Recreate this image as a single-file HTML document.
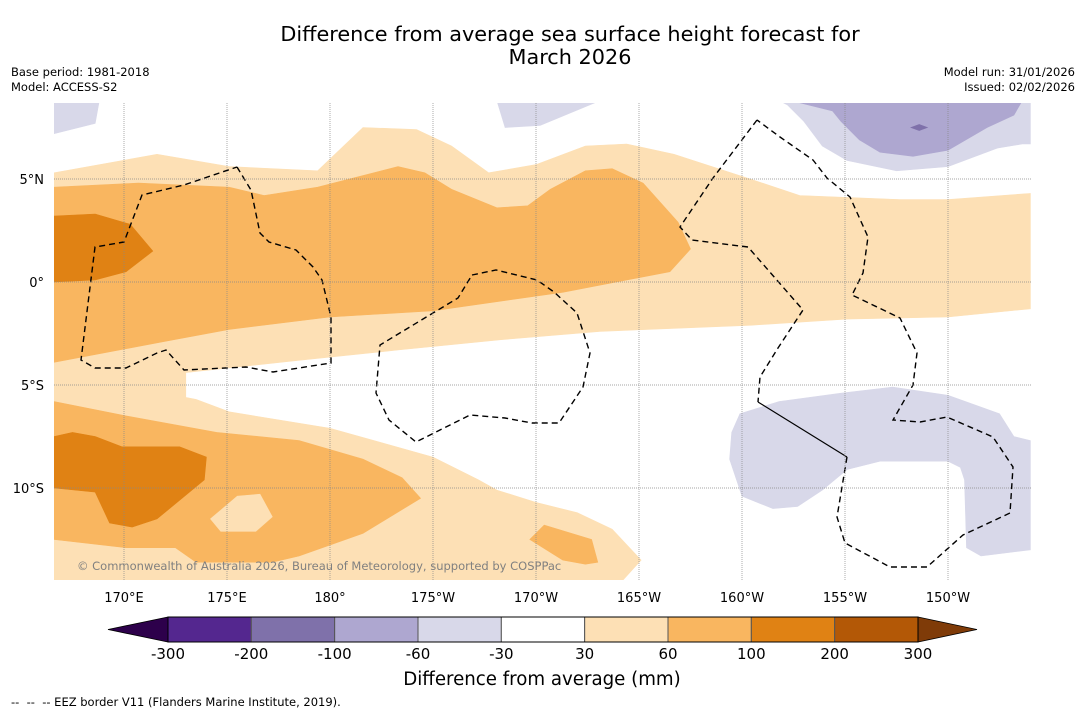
<!DOCTYPE html>
<html><head><meta charset="utf-8">
<style>
body{margin:0;background:#fff;width:1085px;height:713px;overflow:hidden;font-family:"DejaVu Sans","Liberation Sans",sans-serif;}
svg text{font-family:"DejaVu Sans","Liberation Sans",sans-serif;}
</style></head>
<body>
<svg id="chart" width="1085" height="713" xmlns="http://www.w3.org/2000/svg">
<rect width="1085" height="713" fill="#fff"/>
<text x="570" y="41" font-size="20.8" text-anchor="middle" fill="#000">Difference from average sea surface height forecast for</text>
<text x="570" y="64" font-size="20.8" text-anchor="middle" fill="#000">March 2026</text>
<text x="11" y="76" font-size="11.5">Base period: 1981-2018</text>
<text x="11" y="91" font-size="11.5">Model: ACCESS-S2</text>
<text x="1075" y="76" font-size="11.5" text-anchor="end">Model run: 31/01/2026</text>
<text x="1075" y="91" font-size="11.5" text-anchor="end">Issued: 02/02/2026</text>
<defs><clipPath id="mapclip"><rect x="54" y="103" width="977" height="477"/></clipPath></defs>
<g id="map" clip-path="url(#mapclip)"></g>
<g id="axes"></g>
<g id="cbar"></g>
<text x="542" y="685" font-size="18.2" text-anchor="middle">Difference from average (mm)</text>
<text x="11" y="706" font-size="11.5" xml:space="preserve">--  --  -- EEZ border V11 (Flanders Marine Institute, 2019).</text>
</svg>
<script>
const lonTicks=[170,175,180,185,190,195,200,205,210];
const lonTickLabels=["170°E","175°E","180°","175°W","170°W","165°W","160°W","155°W","150°W"];
const latTicks=[5,0,-5,-10];
const latTickLabels=["5°N","0°","5°S","10°S"];
const cbarLevels=["-300","-200","-100","-60","-30","30","60","100","200","300"];
const cbarColors=["#54278f","#7f71aa","#aea7d0","#d8d8e9","#ffffff","#fde0b5","#f9b660","#e08214","#b35806"];
const lightBand=[[166.6,5.3],[171.6,6.2],[175.1,5.6],[179.4,5.4],[181.6,7.5],[184.2,7.4],[185.9,6.6],[187.7,5.3],[190.0,5.7],[192.4,6.6],[194.4,6.7],[196.7,6.2],[200.4,5.0],[202.8,4.2],[207.7,4.0],[210.0,4.0],[214.0,4.3],[214.0,-1.3],[210.0,-1.7],[205.1,-1.8],[200.4,-2.1],[193.1,-2.4],[188.3,-2.8],[183.3,-3.3],[178.5,-3.8],[173.0,-4.4],[173.0,-5.6],[173.5,-5.7],[175.1,-6.3],[180.0,-7.1],[185.0,-8.5],[187.2,-9.6],[188.1,-10.1],[190.0,-10.7],[192.0,-11.2],[193.7,-12.0],[195.1,-13.5],[194.1,-14.6],[166.6,-14.6]];
const midNorth=[[166.6,4.6],[170.7,4.8],[175.1,4.6],[176.8,4.2],[179.4,4.6],[183.3,5.6],[184.6,5.3],[185.9,4.5],[188.1,3.6],[189.6,3.7],[190.7,4.5],[192.4,5.4],[193.7,5.5],[195.2,4.8],[196.9,2.9],[197.5,1.6],[196.5,0.5],[191.3,-0.5],[185.0,-1.4],[180.0,-1.7],[175.1,-2.3],[171.9,-2.9],[166.6,-3.9]];
const darkNorth=[[166.6,3.2],[168.6,3.3],[170.3,2.8],[171.4,1.5],[170.1,0.5],[168.6,0.1],[166.6,0.0]];
const midSouth=[[166.6,-5.8],[170.1,-6.5],[174.5,-7.3],[178.5,-7.7],[181.6,-8.6],[183.5,-9.5],[184.4,-10.5],[181.6,-12.2],[178.5,-13.3],[177.2,-13.6],[173.5,-13.6],[172.5,-12.9],[170.1,-12.9],[166.6,-12.5]];
const lightIsland=[[174.2,-11.5],[175.5,-10.4],[176.6,-10.3],[177.2,-11.4],[176.4,-12.1],[174.7,-12.1]];
const darkSouth=[[166.6,-7.5],[167.5,-7.3],[168.6,-7.5],[169.9,-8.0],[172.7,-8.0],[174.0,-8.5],[173.9,-9.6],[171.6,-11.5],[170.4,-11.9],[169.3,-11.7],[168.6,-10.2],[166.6,-10.0]];
const midBlobSE=[[189.7,-12.5],[190.4,-11.8],[192.7,-12.5],[193.0,-13.6],[192.4,-13.7],[191.3,-13.5]];
const lavTopLeft=[[166.6,8.8],[168.8,8.8],[168.6,7.7],[166.6,7.2]];
const lavTopMid=[[188.1,8.8],[193.1,8.8],[190.2,7.6],[188.5,7.5]];
const lavTopRight=[[201.8,8.8],[214.0,8.8],[214.0,6.7],[213.6,6.7],[212.4,6.5],[210.0,5.6],[207.5,5.4],[205.1,5.9],[203.9,6.6],[203.0,7.8],[202.2,8.6]];
const purpleTop=[[202.4,8.8],[213.6,8.8],[213.2,8.1],[211.9,7.5],[210.0,6.4],[208.3,6.1],[206.7,6.3],[205.7,6.9],[204.8,7.8],[204.4,8.3],[203.2,8.6]];
const purpleCore=[[208.2,7.5],[208.6,7.65],[209.0,7.5],[208.6,7.35]];
const lavSouthEast=[[199.9,-6.4],[199.5,-7.3],[199.4,-8.6],[200.0,-10.4],[201.5,-11.0],[202.7,-10.9],[203.9,-10.1],[205.1,-9.1],[206.7,-8.7],[210.0,-8.7],[210.6,-9.0],[210.8,-9.6],[210.9,-12.9],[211.6,-13.3],[214.0,-13.0],[214.0,-7.7],[213.2,-7.5],[212.5,-6.4],[210.0,-5.5],[207.3,-5.1],[204.8,-5.4],[201.8,-5.8]];

const PX=20.6;
function xScale(lon){return 124+(lon-170)*PX;}
function yScale(lat){return 282-lat*PX;}
const NS="http://www.w3.org/2000/svg";
function mk(tag,attrs,parent){const e=document.createElementNS(NS,tag);for(const k in attrs)e.setAttribute(k,attrs[k]);parent.appendChild(e);return e;}
const map=document.getElementById('map');
function poly(data,fill,name){
  const e=mk('polygon',{points:data.map(p=>xScale(p[0]).toFixed(1)+','+yScale(p[1]).toFixed(1)).join(' '),fill:fill,stroke:fill,'stroke-width':'0.6'},map);
  
  
}
poly(lightBand,cbarColors[5],'contour-30-60');
poly(midNorth,cbarColors[6],'contour-60-100-north');
poly(darkNorth,cbarColors[7],'contour-100-200-north');
poly(midSouth,cbarColors[6],'contour-60-100-south');
poly(lightIsland,cbarColors[5],'contour-30-60-island');
poly(darkSouth,cbarColors[7],'contour-100-200-south');
poly(midBlobSE,cbarColors[6],'contour-60-100-southeast');
poly(lavTopLeft,cbarColors[3],'contour-neg30-neg60-topleft');
poly(lavTopMid,cbarColors[3],'contour-neg30-neg60-topmid');
poly(lavTopRight,cbarColors[3],'contour-neg30-neg60-topright');
poly(purpleTop,cbarColors[2],'contour-neg60-neg100');
poly(purpleCore,cbarColors[1],'contour-neg100-neg200');
poly(lavSouthEast,cbarColors[3],'contour-neg30-neg60-southeast');

const eez=[
 [[237,167],[251,190],[260,233],[269,242],[296,250],[313,267],[322,280],[331,317],[331,363],[273,372],[246,367],[184,370],[166,350],[157,353],[126,368],[95,368],[81,360],[95,247],[124,242],[142,195],[184,185],[237,167]],
 [[472,275],[496,270],[537,280],[554,292],[577,313],[590,353],[583,387],[559,423],[532,423],[505,418],[470,415],[416,442],[389,420],[376,393],[380,345],[438,310],[458,298],[472,275]],
 [[757,120],[713,178],[680,227],[692,240],[748,247],[803,310],[778,348],[760,377],[758,402]],
 [[847,457],[837,517],[845,543],[890,567],[927,567],[963,535],[1010,513],[1013,467],[993,437],[947,417],[920,422],[893,420],[913,385],[917,353],[900,318],[852,295],[863,273],[868,237],[850,197],[827,178],[813,160],[780,137],[757,120]]
];
eez.forEach((pts,i)=>{
  const e=mk('polyline',{points:pts.map(p=>p.join(',')).join(' '),fill:'none',stroke:'#000','stroke-width':'1.4','stroke-dasharray':'6,4'},map);
  
  
});
const solid=mk('line',{x1:758,y1:402,x2:847,y2:457,stroke:'#000','stroke-width':'1.2'},map);



const axes=document.getElementById('axes');
lonTicks.forEach((t,i)=>{
  const g=mk('line',{x1:xScale(t),x2:xScale(t),y1:103,y2:580,stroke:'#888','stroke-width':'0.7','stroke-dasharray':'1,1'},map);
  
  
  const tx=mk('text',{x:xScale(t),y:602,'font-size':'13','text-anchor':'middle'},axes);
  tx.textContent=lonTickLabels[i];
  
  
});
latTicks.forEach((t,i)=>{
  const g=mk('line',{x1:54,x2:1031,y1:yScale(t),y2:yScale(t),stroke:'#888','stroke-width':'0.7','stroke-dasharray':'1,1'},map);
  
  
  const tx=mk('text',{x:44,y:yScale(t)+5,'font-size':'13','text-anchor':'end'},axes);
  tx.textContent=latTickLabels[i];
  
  
});
const cr=mk('text',{x:77,y:570,'font-size':'11.5',fill:'#808080'},map);
cr.textContent='© Commonwealth of Australia 2026, Bureau of Meteorology, supported by COSPPac';



const cb=document.getElementById('cbar');
const cx0=168,cx1=918,cy0=617,cy1=642,bw=(cx1-cx0)/cbarColors.length;
const lt=mk('polygon',{points:`${cx0},${cy0} 108,${(cy0+cy1)/2} ${cx0},${cy1}`,fill:'#2d004b',stroke:'#000','stroke-width':'0.8'},cb);


const rt=mk('polygon',{points:`${cx1},${cy0} 977,${(cy0+cy1)/2} ${cx1},${cy1}`,fill:'#7f3b08',stroke:'#000','stroke-width':'0.8'},cb);


cbarColors.forEach((c,i)=>{
  const r=mk('rect',{x:cx0+i*bw,y:cy0,width:bw,height:cy1-cy0,fill:c,stroke:'#555','stroke-width':'1'},cb);
  
  
});
mk('rect',{x:cx0,y:cy0,width:cx1-cx0,height:cy1-cy0,fill:'none',stroke:'#000','stroke-width':'1'},cb);
cbarLevels.forEach((l,i)=>{
  const t=mk('text',{x:cx0+i*bw,y:659,'font-size':'15','text-anchor':'middle'},cb);
  t.textContent=l;
  
  
});
</script>
</body></html>
